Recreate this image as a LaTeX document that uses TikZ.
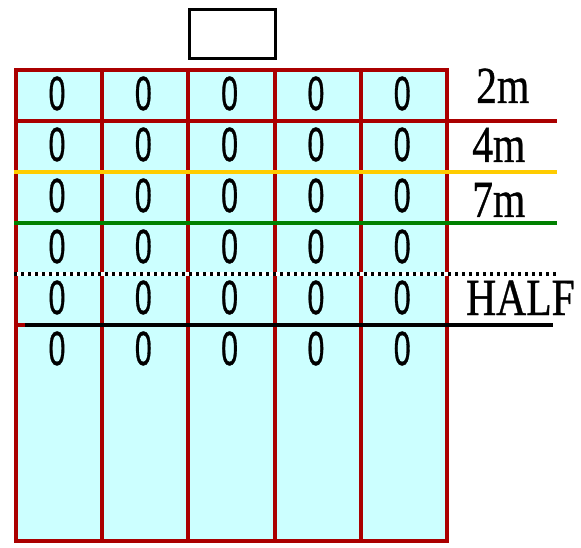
\documentclass[tikz,border=0pt]{standalone}
\usepackage{fontspec}
\setmainfont[FakeBold=0.8]{Liberation Serif}
\newfontfamily\digitfont[FakeBold=1]{Liberation Sans}
\definecolor{poolfill}{HTML}{CCFFFF}
\definecolor{lanered}{HTML}{AA0000}
\definecolor{markyellow}{HTML}{FFCC00}
\definecolor{markgreen}{HTML}{008000}
\tikzset{
  laneline/.style={draw=lanered, line width=4pt},
  zero/.style={inner sep=0pt, anchor=center, font=\digitfont\fontsize{48}{48}\selectfont},
  marklabel/.style={inner sep=0pt, anchor=base west, font=\fontsize{52}{52}\selectfont},
}
\newcommand{\narrow}[1]{\scalebox{0.63}[1]{#1}}
\newcommand{\wideish}[1]{\scalebox{0.8}[1]{#1}}
\begin{document}
\begin{tikzpicture}[x=1pt,y=-1pt]
  \useasboundingbox (0,0) rectangle (581,548);
  % pool body
  \fill[poolfill] (16,70) rectangle (447,541);
  % lane dividers and row lines
  \foreach \x in {102,188,275,361}
    \draw[laneline] (\x,70) -- (\x,541);
  \foreach \y in {172,223,274,325}
    \draw[laneline] (16,\y) -- (447,\y);
  \draw[laneline] (16,121) -- (557,121);
  \draw[laneline] (16,70) rectangle (447,541);
  % distance markers
  \draw[markyellow, line width=4pt] (14,172) -- (557,172);
  \draw[markgreen, line width=4pt] (14,223) -- (557,223);
  \draw[white, line width=4pt] (14,274) -- (557,274);
  \draw[black, line width=4pt, dash pattern=on 3pt off 4pt] (14,274) -- (557,274);
  \draw[black, line width=3.5pt] (25,325) -- (553,325);
  % starting block
  \node[draw, line width=3pt, minimum width=86.5pt, minimum height=48.5pt, inner sep=0pt]
    (block) at (232.25,34.25) {};
  % lane counters
  \foreach \r in {0,...,5}
    \foreach \c in {0,...,4}
      \node[zero] (z-\r-\c) at ({57+86.3*\c},{93.5+51*\r}) {\narrow{0}};
  % marker labels
  \node[marklabel] (m2) at (476,103) {\wideish{2m}};
  \node[marklabel] (m4) at (472,162) {\wideish{4m}};
  \node[marklabel] (m7) at (472,217) {\wideish{7m}};
  \node[marklabel] (half) at (466,315) {\wideish{HALF}};
\end{tikzpicture}
\end{document}
